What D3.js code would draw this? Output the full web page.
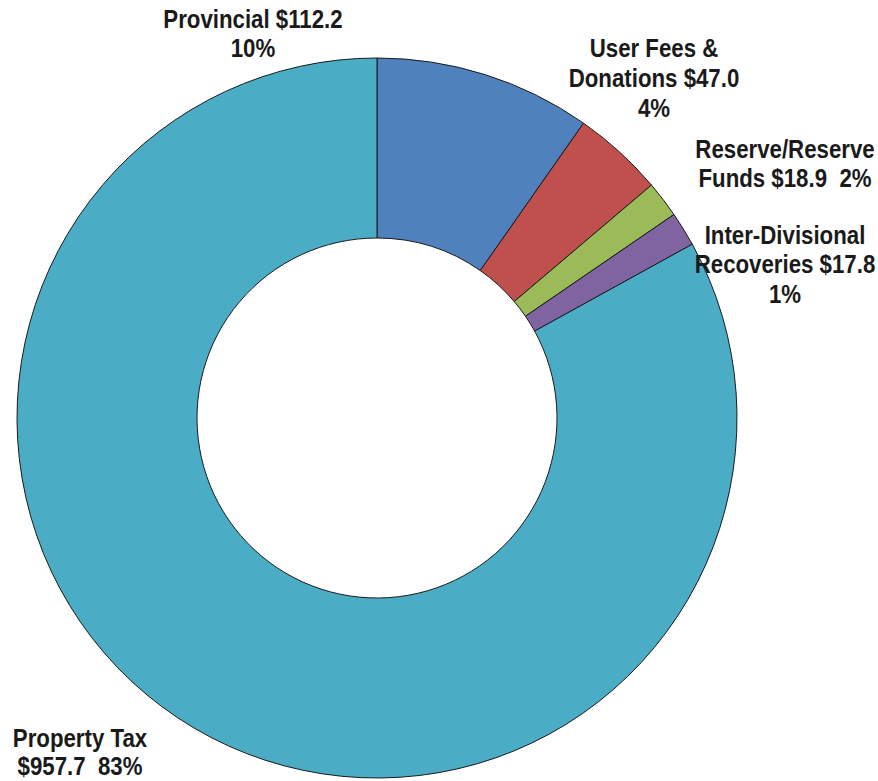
<!DOCTYPE html>
<meta charset="utf-8">
<style type="text/css">
	body { margin: 0; background: #fff; }
	.slice { stroke: #1a1a1a; stroke-width: 1; stroke-linejoin: round; }
	.lbl { font-family: "Liberation Sans Narrow", "Arial Narrow", "Liberation Sans", Arial, sans-serif; font-weight: bold; font-size: 25px; fill: #1a1a1a; white-space: pre; }
</style>
<svg width="878" height="781"></svg>
<script src="https://d3js.org/d3.v7.min.js"></script>
<script type="text/javascript">
	var categories = ["Provincial", "User Fees & Donations", "Reserve/Reserve Funds", "Inter-Divisional Recoveries", "Property Tax"];
	var values = [112.2, 47.0, 18.9, 17.8, 957.7];
	var percents = [10, 4, 2, 1, 83];
	var colors = ["#4f81bd", "#c0504d", "#9bbb59", "#8064a2", "#4bacc6"];

	// how each label wraps (text only, values are filled in below)
	var labelLines = [
		function(v, p){ return ["Provincial " + v, p]; },
		function(v, p){ return ["User Fees &", "Donations " + v, p]; },
		function(v, p){ return ["Reserve/Reserve", "Funds " + v + "  " + p]; },
		function(v, p){ return ["Inter-Divisional", "Recoveries " + v, p]; },
		function(v, p){ return ["Property Tax", v + "  " + p]; }
	];
	// label anchor (centre x, first baseline y, line step)
	var labelPos = [[253, 28, 29], [654, 57, 30], [785, 158, 29], [785, 244, 29.5], [80, 747, 28]];

	var svg = d3.select("svg"),
		cx = 377, cy = 418, outerR = 360, innerR = 180;

	var fmt = d3.format("$.1f");

	var pie = d3.pie().sort(null).value(function(d){ return d; });
	var arc = d3.arc().innerRadius(innerR).outerRadius(outerR);

	var g = svg.append("g").attr("transform", "translate(" + cx + "," + cy + ")");

	g.selectAll("path").data(pie(values)).enter().append("path")
		.attr("class", "slice")
		.attr("d", arc)
		.attr("fill", function(d, i){ return colors[i]; });

	// narrow bold look: squeeze the regular face a little
	var squeeze = 0.89;
	categories.forEach(function(c, i){
		var lines = labelLines[i](fmt(values[i]), percents[i] + "%");
		var p = labelPos[i];
		var t = svg.append("text").attr("class", "lbl").attr("text-anchor", "middle")
			.attr("transform", "translate(" + p[0] + "," + p[1] + ")scale(" + squeeze + ",1)");
		lines.forEach(function(s, j){
			t.append("tspan").attr("x", 0).attr("y", j * p[2]).text(s);
		});
	});
</script>
